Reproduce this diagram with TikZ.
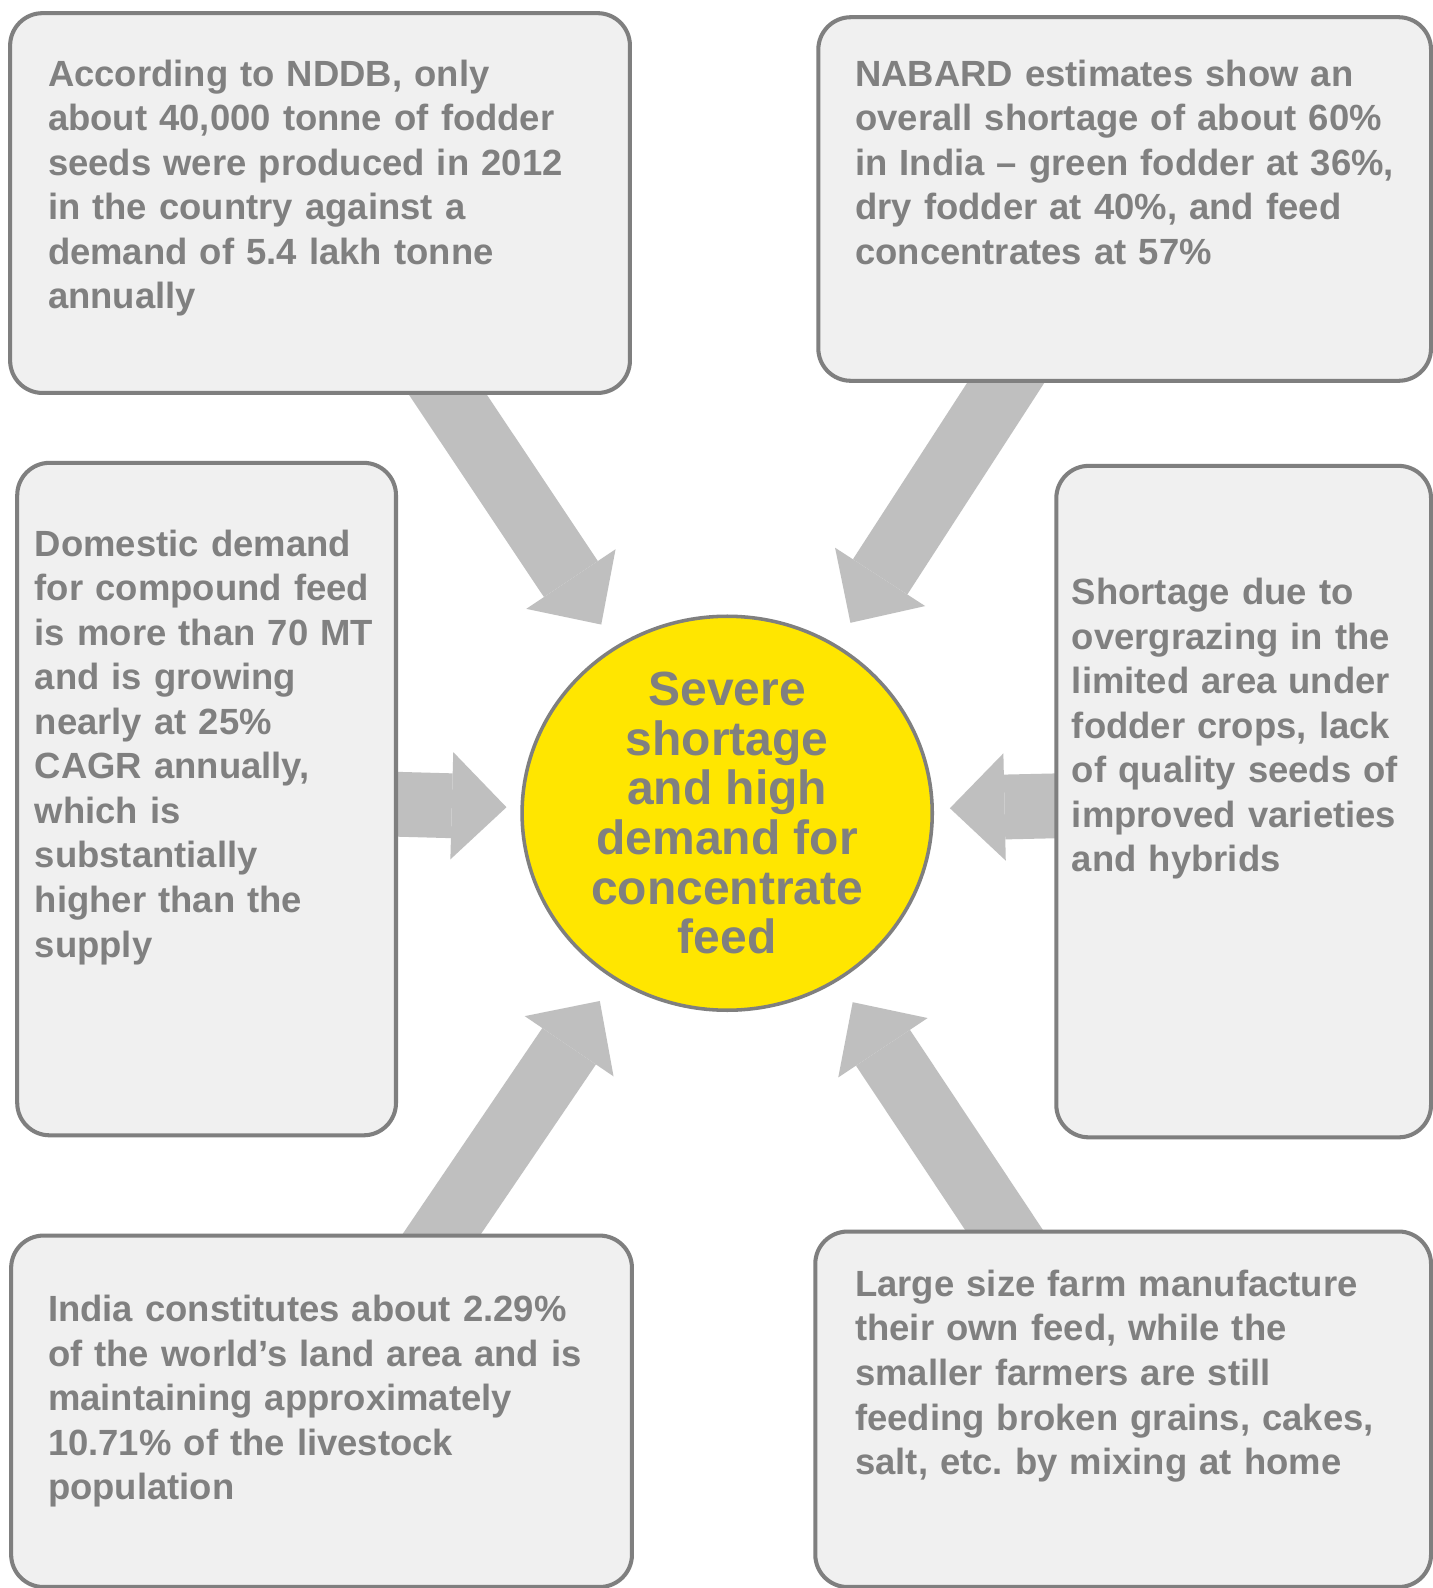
\documentclass[tikz,border=0pt]{standalone}
\usepackage{fontspec}
\setmainfont{Liberation Sans}
\usepackage{tikz}
\usetikzlibrary{arrows.meta, shapes.geometric, backgrounds}

\definecolor{boxgray}{HTML}{F0F0F0}
\definecolor{linegray}{HTML}{7F7F7F}
\definecolor{textgray}{HTML}{808080}
\definecolor{arrowgray}{HTML}{BFBFBF}
\definecolor{hubyellow}{HTML}{FFE600}
\frenchspacing

\begin{document}
\begin{tikzpicture}[x=0.5pt,y=-0.5pt,
	infobox/.style={draw=linegray, fill=boxgray, line width=2pt, rounded corners=16pt, inner sep=0pt},
	boxtext/.style={anchor=base west, inner sep=0pt, text width=320pt, align=left, text=textgray, font=\fontsize{18pt}{22pt}\selectfont\bfseries},
	hub/.style={ellipse, draw=linegray, fill=hubyellow, line width=1.75pt, minimum width=202.5pt, minimum height=194.5pt, inner sep=0pt},
	hubtext/.style={align=center, inner sep=0pt, text=textgray, font=\fontsize{23.7pt}{24.5pt}\selectfont\bfseries},
	feeds/.style={draw=arrowgray, line width=32pt, -{Triangle[length=27pt, width=53pt, line width=0pt]}, shorten >=112pt}]
	\useasboundingbox (0,0) rectangle (1414,1568);

	\node[infobox, minimum width=306pt,   minimum height=187.5pt] (nddb)     at (316,200.5)   {};
	\node[infobox, minimum width=302.5pt, minimum height=179.5pt] (nabard)   at (1110.5,196.5) {};
	\node[infobox, minimum width=187pt,   minimum height=332pt]   (domestic) at (204,789)     {};
	\node[infobox, minimum width=185pt,   minimum height=331.5pt] (grazing)  at (1228,791.5)  {};
	\node[infobox, minimum width=306.5pt, minimum height=173.5pt] (land)     at (317.5,1393.5) {};
	\node[infobox, minimum width=304pt,   minimum height=175.5pt] (farms)    at (1109,1391.5) {};
	\node[hub] (hub) at (718,803) {};

	\node[boxtext] (nddbtext) at (47,85) {According to NDDB, only\\about 40,000 tonne of fodder\\seeds were produced in 2012\\in the country against a\\demand of 5.4 lakh tonne\\annually};
	\node[boxtext] (nabardtext) at (844,85) {NABARD estimates show an\\overall shortage of about 60\%\\in India – green fodder at 36\%,\\dry fodder at 40\%, and feed\\concentrates at 57\%};
	\node[boxtext] (domestictext) at (34,549) {Domestic demand\\for compound feed\\is more than 70 MT\\and is growing\\nearly at 25\%\\CAGR annually,\\which is\\substantially\\higher than the\\supply};
	\node[boxtext] (grazingtext) at (1058,597) {Shortage due to\\overgrazing in the\\limited area under\\fodder crops, lack\\of quality seeds of\\improved varieties\\and hybrids};
	\node[boxtext] (landtext) at (47,1305) {India constitutes about 2.29\%\\of the world’s land area and is\\maintaining approximately\\10.71\% of the livestock\\population};
	\node[boxtext] (farmstext) at (844,1280) {Large size farm manufacture\\their own feed, while the\\smaller farmers are still\\feeding broken grains, cakes,\\salt, etc. by mixing at home};
	\node[hubtext] (hubtitle) at (hub) {Severe\\shortage\\and high\\demand for\\concentrate\\feed};

	\begin{scope}[on background layer]
		\fill[white] (0,0) rectangle (1414,1568);
		\draw[feeds] (nddb.center)     -- (hub.center);
		\draw[feeds] (nabard.center)   -- (hub.center);
		\draw[feeds, shorten >=109pt] (domestic.center) -- (hub.center);
		\draw[feeds, shorten >=110pt] (grazing.center)  -- (hub.center);
		\draw[feeds] (land.center)     -- (hub.center);
		\draw[feeds] (farms.center)    -- (hub.center);
	\end{scope}
\end{tikzpicture}
\end{document}
